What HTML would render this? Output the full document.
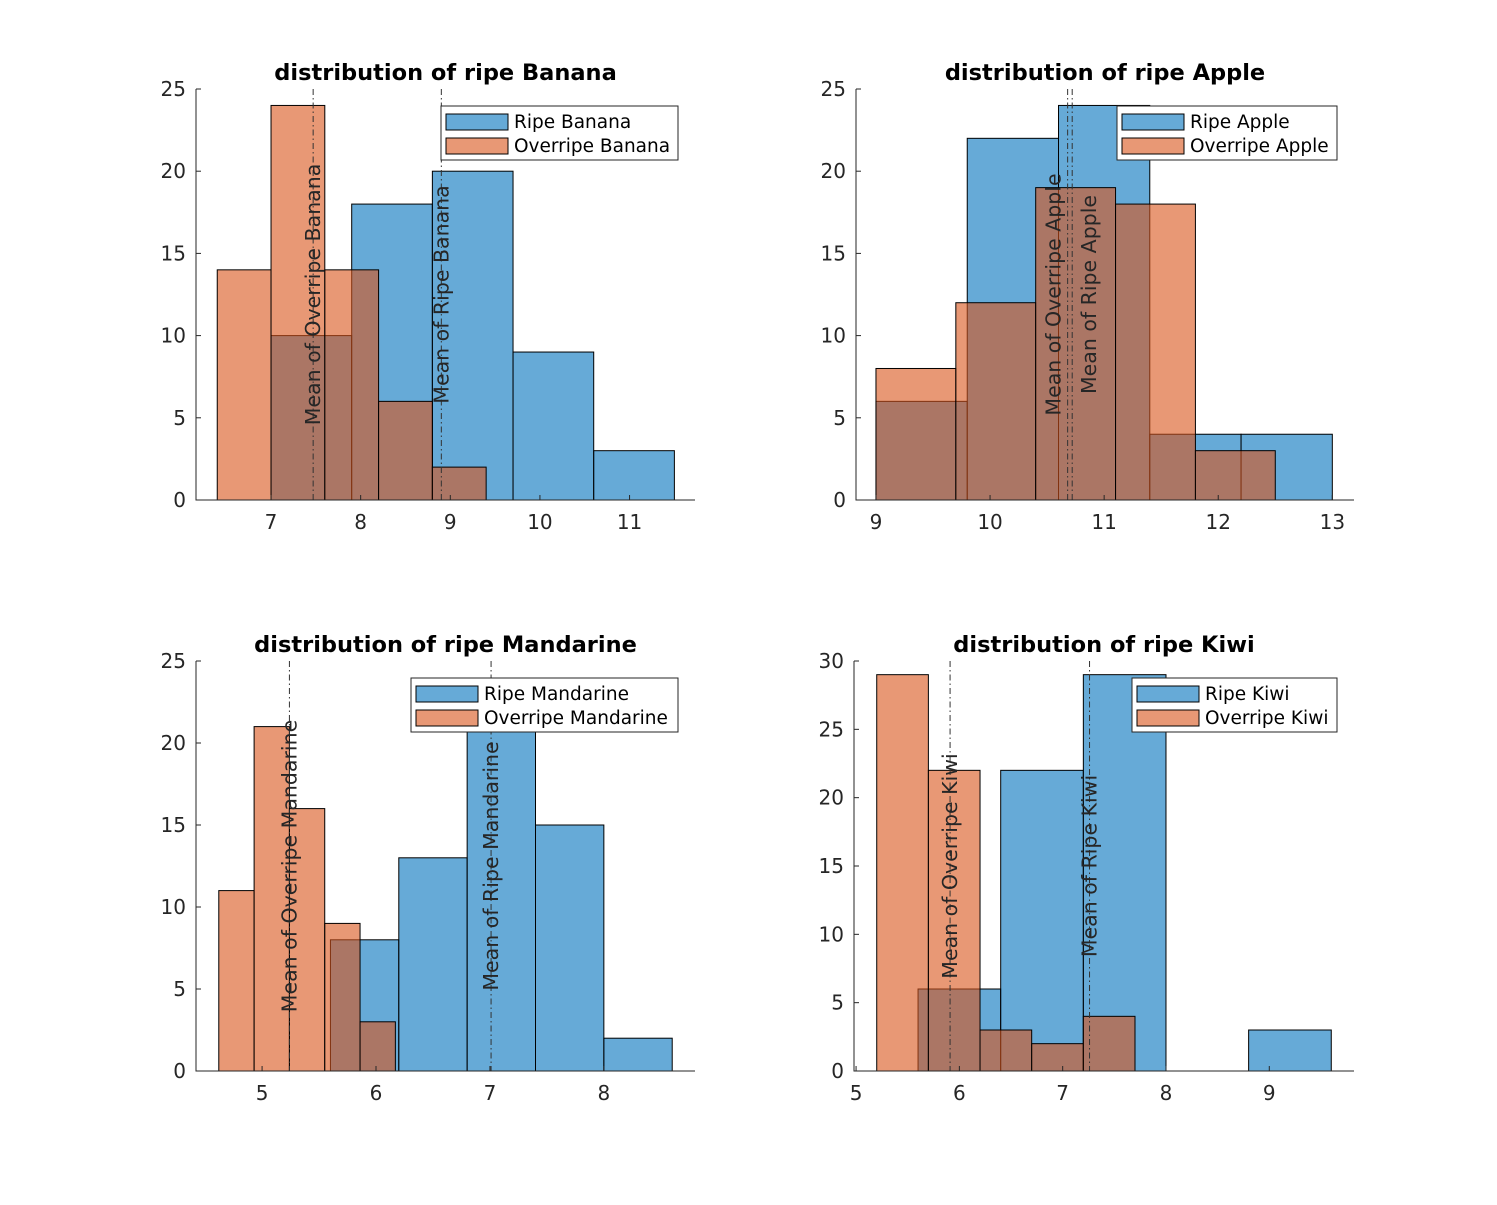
<!DOCTYPE html>
<html><head><meta charset="utf-8"><style>
html,body{margin:0;padding:0;background:#fff}
svg{display:block;font-family:"DejaVu Sans","Liberation Sans",sans-serif}
</style></head><body>
<svg id="fig" width="1497" height="1205" viewBox="0 0 1497 1205" xmlns="http://www.w3.org/2000/svg"></svg>
<script>
// ---- data ----
const bananaRipeEdges=[7.0,7.9,8.8,9.7,10.6,11.5];
const bananaRipeCounts=[10,18,20,9,3];
const bananaOverEdges=[6.4,7.0,7.6,8.2,8.8,9.4];
const bananaOverCounts=[14,24,14,6,2];
const bananaMeans=[8.9,7.47];
const appleRipeEdges=[9.0,9.8,10.6,11.4,12.2,13.0];
const appleRipeCounts=[6,22,24,4,4];
const appleOverEdges=[9.0,9.7,10.4,11.1,11.8,12.5];
const appleOverCounts=[8,12,19,18,3];
const appleMeans=[10.72,10.68];
const mandRipeEdges=[5.6,6.2,6.8,7.4,8.0,8.6];
const mandRipeCounts=[8,13,22,15,2];
const mandOverEdges=[4.62,4.93,5.24,5.55,5.86,6.17];
const mandOverCounts=[11,21,16,9,3];
const mandMeans=[7.01,5.24];
const kiwiRipeEdges=[5.6,6.4,7.2,8.0,8.8,9.6];
const kiwiRipeCounts=[6,22,29,0,3];
const kiwiOverEdges=[5.2,5.7,6.2,6.7,7.2,7.7];
const kiwiOverCounts=[29,22,3,2,4];
const kiwiMeans=[7.26,5.91];
const bananaXTicks=[7,8,9,10,11];
const appleXTicks=[9,10,11,12,13];
const mandXTicks=[5,6,7,8];
const kiwiXTicks=[5,6,7,8,9];
const yTicks25=[0,5,10,15,20,25];
const yTicks30=[0,5,10,15,20,25,30];

const NS="http://www.w3.org/2000/svg";
const svg=document.getElementById('fig');
function mk(tag,attrs,parent){const e=document.createElementNS(NS,tag);for(const k in attrs)e.setAttribute(k,attrs[k]);(parent||svg).appendChild(e);return e;}

const panels=[
 {fruit:'Banana',px:[196,695],py:[89,500],xl:[6.163,11.73],yMax:25,yt:yTicks25,xt:bananaXTicks,re:bananaRipeEdges,rc:bananaRipeCounts,oe:bananaOverEdges,oc:bananaOverCounts,m:bananaMeans,lo:[0,0],leg:[441,106,237]},
 {fruit:'Apple',px:[856,1354],py:[89,500],xl:[8.825,13.19],yMax:25,yt:yTicks25,xt:appleXTicks,re:appleRipeEdges,rc:appleRipeCounts,oe:appleOverEdges,oc:appleOverCounts,m:appleMeans,lo:[17,-14],leg:[1117,106,220]},
 {fruit:'Mandarine',px:[196,695],py:[661,1071],xl:[4.42,8.8],yMax:25,yt:yTicks25,xt:mandXTicks,re:mandRipeEdges,rc:mandRipeCounts,oe:mandOverEdges,oc:mandOverCounts,m:mandMeans,lo:[0,0],leg:[411,678,267]},
 {fruit:'Kiwi',px:[854,1354],py:[661,1071],xl:[4.98,9.82],yMax:30,yt:yTicks30,xt:kiwiXTicks,re:kiwiRipeEdges,rc:kiwiRipeCounts,oe:kiwiOverEdges,oc:kiwiOverCounts,m:kiwiMeans,lo:[0,0],leg:[1132,678,205]}
];
const BLUE='#0072BD',ORANGE='#D95319';

panels.forEach(p=>{
 const g=mk('g',{});
 
 
 const X=v=>p.px[0]+(v-p.xl[0])/(p.xl[1]-p.xl[0])*(p.px[1]-p.px[0]);
 const Y=v=>p.py[1]-v/p.yMax*(p.py[1]-p.py[0]);
 function bars(edges,counts,col,name){
  counts.forEach((c,i)=>{
   if(c<=0)return;
   const r=mk('rect',{x:X(edges[i]),y:Y(c),width:X(edges[i+1])-X(edges[i]),height:Y(0)-Y(c),fill:col,'fill-opacity':0.6,stroke:'#000','stroke-width':1},g);
   
   
  });
 }
 bars(p.re,p.rc,BLUE,'ripe-'+p.fruit.toLowerCase());
 bars(p.oe,p.oc,ORANGE,'overripe-'+p.fruit.toLowerCase());
 const labels=['Mean of Ripe '+p.fruit,'Mean of Overripe '+p.fruit];
 p.m.forEach((mv,i)=>{
  const x=X(mv);
  const l=mk('line',{x1:x,x2:x,y1:p.py[0],y2:p.py[1],stroke:'#333','stroke-width':1,'stroke-dasharray':'6,3,1.5,3'},g);
  
  
  const cy=(p.py[0]+p.py[1])/2, tx=x+p.lo[i]+7;
  const t=mk('text',{x:0,y:0,transform:`translate(${tx},${cy}) rotate(-90)`,'text-anchor':'middle','font-size':20.5,fill:'#262626'},g);
  t.textContent=labels[i];
  
  
 });
 const ax=mk('path',{d:`M${p.px[0]},${p.py[0]}V${p.py[1]}H${p.px[1]}`,fill:'none',stroke:'#262626','stroke-width':1},g);
 
 
 p.yt.forEach(v=>{
  const y=Y(v);
  mk('line',{x1:p.px[0],x2:p.px[0]+5,y1:y,y2:y,stroke:'#262626'},g);
  const t=mk('text',{x:p.px[0]-10,y:y+7,'text-anchor':'end','font-size':20,fill:'#262626'},g);
  t.textContent=v;
  
  
 });
 p.xt.forEach(v=>{
  const x=X(v);
  mk('line',{x1:x,x2:x,y1:p.py[1],y2:p.py[1]-5,stroke:'#262626'},g);
  const t=mk('text',{x:x,y:p.py[1]+29,'text-anchor':'middle','font-size':20,fill:'#262626'},g);
  t.textContent=v;
  
  
 });
 const tt=mk('text',{x:(p.px[0]+p.px[1])/2,y:p.py[0]-9,'text-anchor':'middle','font-size':22.5,'font-weight':'bold',fill:'#000'},g);
 tt.textContent='distribution of ripe '+p.fruit;
 
 
 const [lx,ly,lw]=p.leg;
 const lg=mk('g',{},g);
 
 
 mk('rect',{x:lx,y:ly,width:lw,height:54,fill:'#fff',stroke:'#262626','stroke-width':1},lg);
 [['Ripe '+p.fruit,BLUE],['Overripe '+p.fruit,ORANGE]].forEach((e,i)=>{
  const sw=mk('rect',{x:lx+5,y:ly+8+i*24,width:62,height:16,fill:e[1],'fill-opacity':0.6,stroke:'#000'},lg);
  
  
  const t=mk('text',{x:lx+73,y:ly+22+i*24,'font-size':18.5,fill:'#000'},lg);
  t.textContent=e[0];
  
  
 });
});
</script>
</body></html>
